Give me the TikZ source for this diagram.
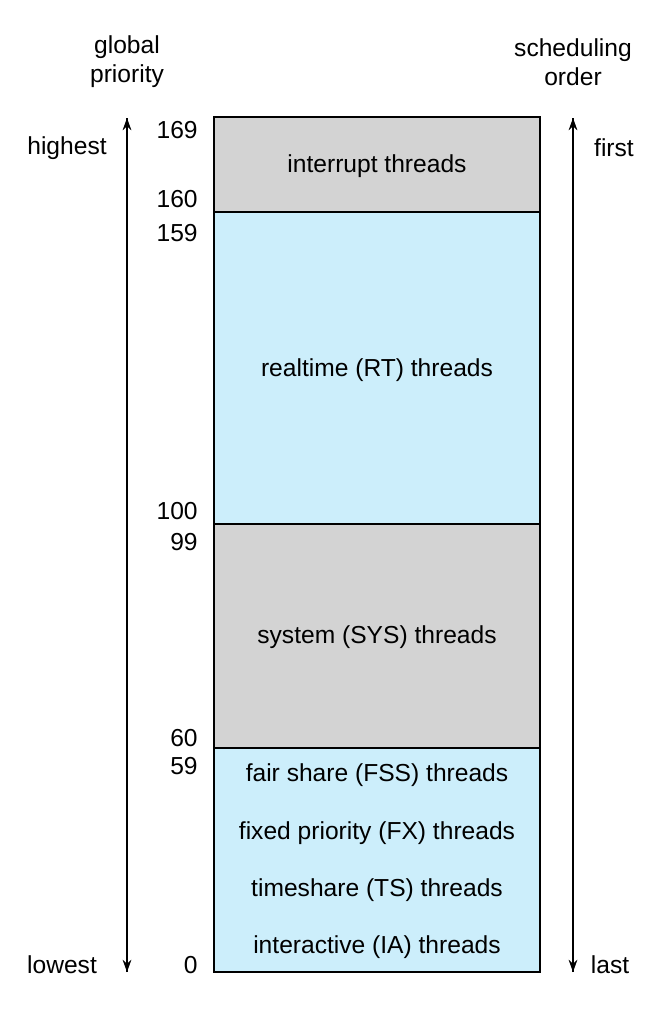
\documentclass[tikz,border=0pt]{standalone}
\usepackage{fontspec}
\setmainfont{Liberation Sans}
\usetikzlibrary{arrows.meta, positioning}
\definecolor{bandGray}{RGB}{211, 211, 211}
\definecolor{bandBlue}{RGB}{204, 238, 251}
\tikzset{
    band/.style={draw=black, thick},
    lbl/.style={font=\fontsize{14}{16.5}\selectfont, inner sep=0pt, align=center},
    num/.style={lbl, anchor=east},
    axis/.style={thick, -{Stealth[length=7pt, width=5pt]}}
}
\begin{document}
\begin{tikzpicture}[x=0.02cm, y=-0.02cm]
    % Page frame
    \useasboundingbox (0,0) rectangle (662,1014);

    % Priority bands
    \fill[bandGray] (214,117) rectangle (540,212);
    \fill[bandBlue] (214,212) rectangle (540,524);
    \fill[bandGray] (214,524) rectangle (540,748);
    \fill[bandBlue] (214,748) rectangle (540,972);
    \draw[band] (214,117) rectangle (540,972);
    \draw[band] (214,212) -- (540,212);
    \draw[band] (214,524) -- (540,524);
    \draw[band] (214,748) -- (540,748);

    % Band labels
    \node[lbl] (intr) at (377,166) {interrupt threads};
    \node[lbl] (rt) at (377,370) {realtime (RT) threads};
    \node[lbl] (sys) at (377,637) {system (SYS) threads};
    \node[lbl] (fss) at (377,775) {fair share (FSS) threads};
    \node[lbl] (fx) at (377,833) {fixed priority (FX) threads};
    \node[lbl] (ts) at (377,890) {timeshare (TS) threads};
    \node[lbl] (ia) at (377,947) {interactive (IA) threads};

    % Priority numbers
    \foreach \val/\ypos in {169/130, 160/199, 159/233, 100/511, 99/542, 60/738, 59/766, 0/965}
        \node[num] (n\val) at (198,\ypos) {\val};

    % Axes
    \coordinate (gbot) at (127,972);
    \coordinate (gtop) at (127,118);
    \coordinate (sbot) at (573,972);
    \coordinate (stop) at (573,118);
    \draw[axis] (gbot) -- (gtop);
    \draw[axis] (sbot) -- (stop);
    \draw[axis] (gtop) -- (gbot);
    \draw[axis] (stop) -- (sbot);

    \node[lbl] (gp) at (127,62) {global\\priority};
    \node[lbl] (so) at (573,62) {scheduling\\order};
    \node[lbl] (high) at (67,148) {highest};
    \node[lbl] (low) at (62,965) {lowest};
    \node[lbl] (first) at (614,148) {first};
    \node[lbl] (last) at (610,965) {last};
\end{tikzpicture}
\end{document}
